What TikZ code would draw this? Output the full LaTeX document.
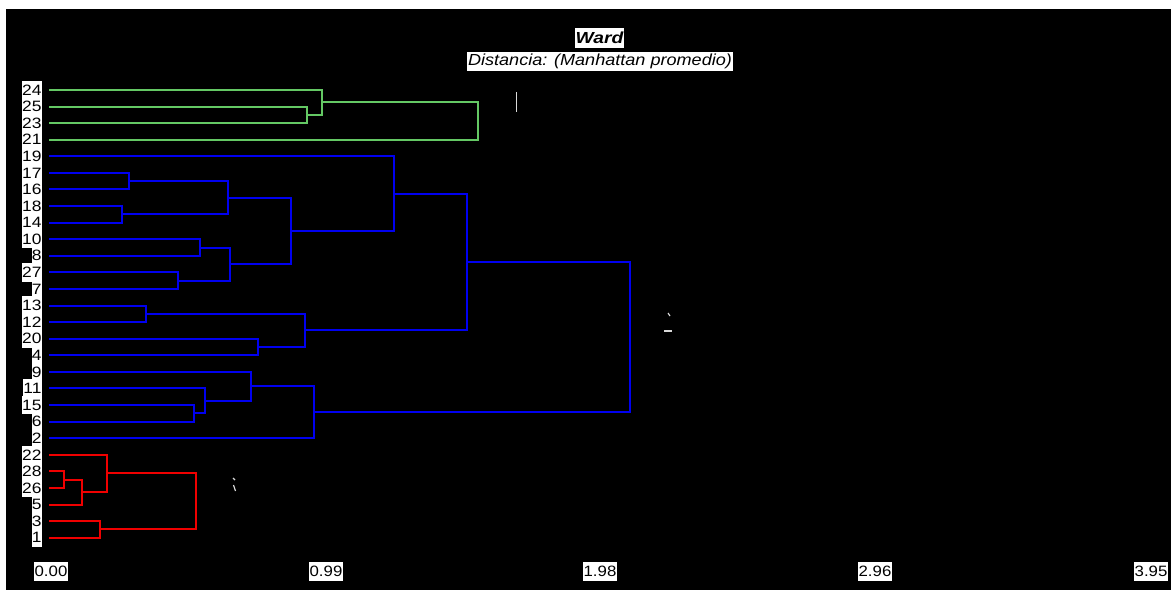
\documentclass[tikz,border=0pt]{standalone}
\usepackage{fontspec}
\setmainfont{Liberation Sans}
\usetikzlibrary{calc}
\definecolor{cgreen}{HTML}{64C864}
\definecolor{cblue}{HTML}{0000F0}
\definecolor{cred}{HTML}{F00000}
\tikzset{
  link/.style={line width=2pt},
  leaf/.style={fill=white,text=black,anchor=east,inner xsep=0.3pt,inner ysep=0pt,
    minimum height=18.5pt,font=\fontsize{15}{15}\selectfont},
  tick/.style={fill=white,text=black,inner xsep=1pt,inner ysep=0pt,
    minimum height=19pt,font=\fontsize{15}{15}\selectfont},
  speck/.style={draw=white!85!black,line width=1.2pt},
}
% bracket joining two children at a given height (px)
\newcommand{\joinat}[4]{%
  \path ($(#2)!.5!(#3)$) coordinate (#1y);
  \coordinate (#1) at (#1y -| #4,0);
  \draw[link] (#2) -| (#1) |- (#3);
}

\begin{document}
\begin{tikzpicture}[x=1pt,y=-1pt]
\useasboundingbox (0,0) rectangle (1171,590);
\fill[white] (0,0) rectangle (1171,590);
\fill[black] (6,9) rectangle (1171,590);

% ===== titles =====
\node[fill=white,inner xsep=1pt,inner ysep=0pt,minimum height=20pt,
  font=\fontsize{16}{16}\selectfont\bfseries\itshape] (title) at (599.5,38) {\scalebox{1.2}[1]{Ward}};
\node[fill=white,inner xsep=1pt,inner ysep=0pt,minimum height=19pt,
  font=\fontsize{16}{16}\selectfont\itshape] (subtitle) at (600,61.2) {\scalebox{1.13}[1]{Distancia: (Manhattan promedio)}};

% ===== leaves =====
\foreach \lab [count=\i from 0] in {24,25,23,21,19,17,16,18,14,10,8,27,7,13,12,20,4,9,11,15,6,2,22,28,26,5,3,1}{
  \node[leaf] (l\lab) at (42,{90+16.58*\i}) {\scalebox{1.16}[1]{\lab}};
  \coordinate (c\lab) at (49,{90+16.58*\i});
}

% ===== green cluster =====
\begin{scope}[cgreen]
  \joinat{g1}{c25}{c23}{306.7}
  \joinat{g2}{c24}{g1}{322}
  \joinat{g3}{g2}{c21}{478}
\end{scope}

% ===== blue cluster =====
\begin{scope}[cblue]
  \joinat{b1}{c17}{c16}{128.7}
  \joinat{b2}{c18}{c14}{122}
  \joinat{b3}{b1}{b2}{228.3}
  \joinat{b4}{c10}{c8}{200.3}
  \joinat{b5}{c27}{c7}{177.7}
  \joinat{b6}{b4}{b5}{230.3}
  \joinat{b7}{b3}{b6}{291}
  \joinat{b8}{c19}{b7}{394.3}
  \joinat{b9}{c13}{c12}{146.3}
  \joinat{b10}{c20}{c4}{258.3}
  \joinat{b11}{b9}{b10}{305.3}
  \joinat{b12}{b8}{b11}{466.7}
  \joinat{b13}{c15}{c6}{194}
  \joinat{b14}{c11}{b13}{205.3}
  \joinat{b15}{c9}{b14}{251}
  \joinat{b16}{b15}{c2}{313.7}
  \joinat{b17}{b12}{b16}{630.3}
\end{scope}

% ===== red cluster =====
\begin{scope}[cred]
  \joinat{r1}{c28}{c26}{64.3}
  \joinat{r2}{r1}{c5}{82.3}
  \joinat{r3}{c22}{r2}{107}
  \joinat{r4}{c3}{c1}{100.3}
  \joinat{r5}{r3}{r4}{195.7}
\end{scope}

% clipped cluster marks
\draw[speck] (516.7,92) -- (516.7,111.5);
\draw[speck] (668,313) -- (670,316);
\draw[speck] (664,331) -- (672,331);
\draw[speck] (233,478) -- (235,480);
\draw[speck] (233.5,485) -- (235.5,491);

% ===== axis =====
\foreach \v/\px [count=\k] in {0.00/51,0.99/326,1.98/600,2.96/875,3.95/1151}
  \node[tick] (t\k) at (\px,571.5) {\scalebox{1.12}[1]{\v}};

\end{tikzpicture}
\end{document}
